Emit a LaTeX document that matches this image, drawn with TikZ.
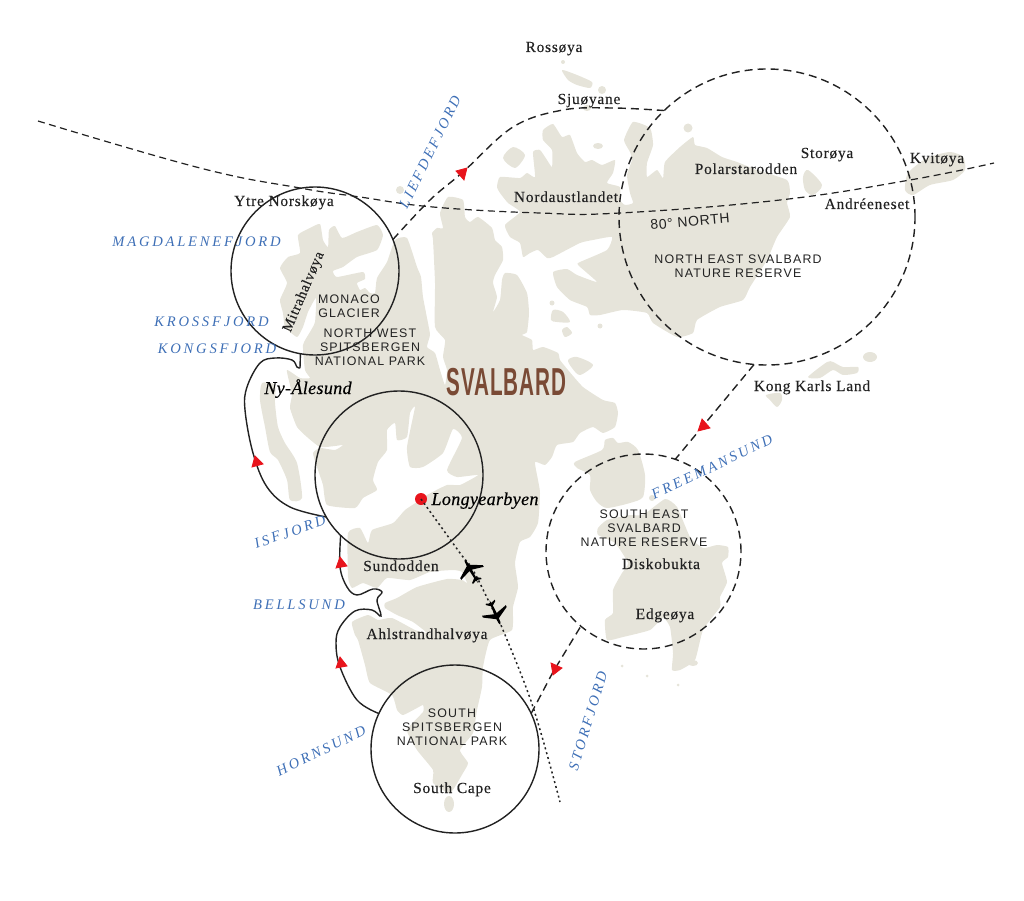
\documentclass[tikz,border=0pt]{standalone}
\usepackage{fontspec}
\setmainfont{Liberation Serif}
\newfontfamily\serifl[LetterSpace=5,RawFeature={embolden=0.25}]{Liberation Serif}
\newfontfamily\serifi[LetterSpace=2,RawFeature={embolden=0.35}]{Liberation Serif}
\newfontfamily\fjordf[LetterSpace=19]{Liberation Serif}
\newfontfamily\sansl[LetterSpace=9.5]{Liberation Sans}
\newfontfamily\sanst[LetterSpace=5]{Liberation Sans}
\newfontfamily\titlef[LetterSpace=4]{Liberation Sans}
\definecolor{land}{HTML}{E6E4DA}
\definecolor{ink}{HTML}{222222}
\definecolor{routered}{HTML}{E8141C}
\definecolor{fjordblue}{HTML}{3E6FB6}
\definecolor{brown1}{HTML}{7A4A35}
\tikzset{
  landmass/.style={fill=land,draw=none},
  parksolid/.style={circle,draw=ink,line width=1.4pt,minimum size=168pt,inner sep=0pt,outer sep=0pt},
  parkdash/.style={circle,draw=ink,line width=1.4pt,dash pattern=on 8pt off 5pt,inner sep=0pt,outer sep=0pt},
  sail/.style={draw=ink,line width=1.4pt},
  saildash/.style={draw=ink,line width=1.4pt,dash pattern=on 8pt off 5pt},
  parallelline/.style={draw=ink,line width=1.2pt,dash pattern=on 7pt off 4.5pt},
  flight/.style={draw=ink,line width=1.5pt,dash pattern=on 2pt off 3pt},
  redtip/.style={fill=routered,draw=routered,line width=0.8pt,line join=miter},
  place/.style={font=\serifl\fontsize{15.4}{17}\selectfont,text=ink,inner sep=0pt,anchor=base},
  town/.style={font=\serifi\itshape\fontsize{18}{20}\selectfont,text=black,inner sep=0pt,anchor=base},
  fjordlabel/.style={font=\fjordf\itshape\fontsize{14.6}{16}\selectfont,text=fjordblue,inner sep=0pt},
  parklabel/.style={font=\sansl\fontsize{12.4}{14}\selectfont,text=ink,inner sep=0pt,align=center},
  airplane/.pic={\fill[black] (-0.9,-9) -- (0,-10.5) -- (0.9,-9) -- (1.4,-4) -- (13,3) -- (13,5) -- (1.4,1.5) -- (1,10) -- (5,13) -- (5,14.5) -- (0.6,13) -- (0,16) -- (-0.6,13) -- (-5,14.5) -- (-5,13) -- (-1,10) -- (-1.4,1.5) -- (-13,5) -- (-13,3) -- (-1.4,-4) -- cycle;}
}
\begin{document}
\begin{tikzpicture}[x=1pt,y=-1pt]
\useasboundingbox (0,0) rectangle (1024,901);
% ----- land -----
\fill[landmass] plot[smooth cycle,tension=0.3] coordinates {
(280,268)(288,257)(300,253)(298,235)(310,228)(320,224)(323,240)(328,247)(329,230)(335,226)(342,238)(357,232)(377,225)(383,235)(377,250)(357,257)(343,267)(333,271)(337,277)(363,272)(365,279)(357,283)(360,290)(365,288)(370,293)(375,293)(377,278)(387,262)(395,240)(407,238)(417,267)(421,277)(423,297)(428,323)(430,335)(427,347)(435,353)(440,370)(445,385)(447,370)(443,357)(445,340)(435,327)(435,283)(433,240)(432,233)(437,228)(443,228)(440,213)(448,197)(463,200)(465,217)(470,222)(478,217)(492,228)(495,240)(502,247)(503,260)(495,275)(493,283)(497,297)(493,312)(500,300)(502,280)(505,273)(517,275)(527,293)(529,313)(527,332)(522,335)(532,340)(533,350)(543,347)(558,353)(560,360)(568,370)(583,387)(603,400)(615,403)(618,413)(615,427)(603,433)(593,427)(580,433)(573,442)(557,445)(552,457)(545,465)(535,462)(538,480)(540,493)(538,523)(530,537)(520,542)(515,563)(518,587)(513,607)(512,630)(490,640)(483,667)(482,687)(477,710)(473,733)(460,750)(468,763)(463,773)(450,793)(433,783)(433,770)(417,750)(407,730)(423,712)(423,705)(417,708)(403,715)(397,710)(392,695)(370,683)(365,665)(358,640)(355,635)(352,622)(368,615)(378,620)(392,618)(415,630)(427,633)(413,622)(397,615)(385,608)(385,603)(397,598)(417,587)(447,579)(462,580)(467,583)(462,572)(453,570)(430,572)(410,580)(387,578)(377,588)(363,583)(352,588)(348,577)(348,533)(360,528)(368,543)(372,530)(393,523)(405,510)(417,502)(427,495)(447,485)(460,485)(478,475)(457,477)(447,470)(462,438)(453,429)(443,453)(423,467)(410,467)(407,447)(415,407)(410,413)(407,437)(397,440)(395,423)(387,430)(387,450)(378,462)(373,480)(377,490)(363,498)(355,508)(327,505)(323,485)(317,467)(313,453)(320,448)(335,450)(343,445)(335,446)(320,447)(307,437)(297,427)(290,408)(292,395)(290,385)(287,370)(300,378)(310,378)(305,370)(303,345)(310,332)(315,322)(316,298)(308,312)(303,327)(297,337)(285,327)(283,313)(280,300)(287,283)};
% Prins Karls Forland
\fill[landmass] plot[smooth cycle,tension=0.4] coordinates {(262,383)(275,385)(275,403)(278,427)(285,443)(297,463)(302,498)(290,500)(287,480)(278,460)(270,452)(265,427)(260,400)};
% Nordaustlandet
\fill[landmass] plot[smooth cycle,tension=0.3] coordinates {
(497,187)(500,177)(520,178)(527,173)(535,177)(533,152)(540,150)(547,160)(552,167)(552,150)(543,140)(543,130)(553,124)(562,137)(570,135)(577,153)(585,162)(592,160)(602,165)(615,160)(613,173)(607,183)(620,187)(620,200)(625,205)(633,203)(630,193)(627,175)(632,160)(630,152)(624,140)(633,122)(650,128)(653,145)(647,163)(647,177)(657,170)(663,178)(665,162)(680,147)(693,137)(695,145)(707,148)(722,157)(737,162)(757,170)(787,180)(790,193)(787,203)(790,217)(777,237)(767,260)(750,287)(743,300)(720,307)(697,320)(693,333)(677,337)(653,323)(647,313)(623,310)(600,315)(590,315)(587,307)(570,300)(557,287)(553,272)(567,269)(577,275)(597,282)(578,265)(580,262)(607,250)(612,237)(593,240)(580,243)(553,257)(547,258)(538,250)(530,253)(523,257)(520,243)(510,237)(505,225)(520,212)(508,203)(500,193)};
% small islands north
\fill[landmass] plot[smooth cycle,tension=0.5] coordinates {(503,158)(513,147)(525,155)(515,168)};
\fill[landmass] plot[smooth cycle,tension=0.4] coordinates {(562,70)(577,75)(592,82)(590,88)(577,85)(568,80)};
\fill[landmass] (563,62) circle (2);
\fill[landmass] (602,90) circle (4);
\fill[landmass] (587,108) ellipse (4 and 3);
\fill[landmass] (400,190) circle (4);
\fill[landmass] (598,146) ellipse (5 and 3);
\fill[landmass] (688,128) circle (4.5);
% small islands east of Spitsbergen
\fill[landmass] (552,303) circle (2.5);
\fill[landmass] plot[smooth cycle,tension=0.5] coordinates {(551,320)(553,310)(563,312)(570,322)(557,322)};
\fill[landmass] plot[smooth cycle,tension=0.5] coordinates {(562,330)(567,327)(572,333)(565,337)};
\fill[landmass] (600,326) circle (2.5);
\fill[landmass] plot[smooth cycle,tension=0.5] coordinates {(568,360)(577,357)(593,365)(580,375)(572,368)};
\fill[landmass] (449,804) ellipse (5 and 8);
% Storoya, Kvitoya, Kong Karls Land
\fill[landmass] plot[smooth cycle,tension=0.5] coordinates {(803,177)(808,170)(822,185)(813,195)(805,190)};
\fill[landmass] plot[smooth cycle,tension=0.4] coordinates {(905,190)(908,173)(927,158)(950,152)(963,157)(965,170)(953,180)(930,185)(913,195)};
\fill[landmass] plot[smooth cycle,tension=0.4] coordinates {(808,377)(827,362)(833,362)(843,367)(858,367)(857,373)(843,375)(833,370)(820,378)};
\fill[landmass] (870,357) ellipse (7 and 5);
\fill[landmass] plot[smooth cycle,tension=0.5] coordinates {(766,395)(780,393)(782,400)(777,407)(770,400)};
% Barentsoya, Edgeoya
\fill[landmass] plot[smooth cycle,tension=0.4] coordinates {(575,462)(602,450)(605,440)(613,438)(618,443)(628,442)(638,450)(645,475)(643,497)(630,503)(607,508)(597,502)(590,490)(590,475)(577,468)};
\fill[landmass] plot[smooth cycle,tension=0.3] coordinates {(598,528)(607,520)(630,515)(643,515)(665,499)(677,507)(690,537)(703,548)(717,545)(728,547)(728,557)(722,563)(727,582)(720,597)(720,607)(703,630)(695,660)(680,670)(672,670)(673,653)(670,627)(663,618)(650,630)(623,637)(607,640)(605,620)(613,613)(613,590)(622,573)(628,563)(615,543)(598,535)};
\fill[landmass] (652,498) circle (3);
\fill[landmass] (693,663) ellipse (5 and 3);
\fill[landmass] (622,666) circle (1.5);
\fill[landmass] (647,676) circle (1.5);
\fill[landmass] (678,685) circle (1.5);
% ----- park circles -----
\node[parksolid] (nw) at (315,271) {};
\node[parksolid] (mid) at (399,475) {};
\node[parksolid] (sc) at (455,749) {};
\node[parkdash,minimum size=296pt] (ne) at (767,217) {};
\node[parkdash,minimum size=195pt] (se) at (643.5,551.5) {};
% ----- 80 north -----
\coordinate (pw) at (38,121);
\coordinate (pe) at (994,163);
\draw[parallelline] plot[smooth,tension=0.7] coordinates {(pw)(200,168)(300,188)(360,197)(433,207)(540,213)(620,213)(780,200)(910,180)(pe)};
% ----- routes -----
\draw[sail] plot[smooth,tension=0.6] coordinates {(sc.155)(357,700)(340,667)(336,643)(340,627)(355,611)(372,610)(381,616)(377,600)(382,592)(373,589)(357,595)(347,587)(340,567)(mid.226)};
\draw[sail] plot[smooth,tension=0.6] coordinates {(mid.210)(290,507)(267,487)(253,453)(245,410)(247,387)(260,363)(275,358)(292,360)(297,367)(300,368)};
\draw[sail] (300,368) -- (nw.260);
\draw[saildash] plot[smooth,tension=0.6] coordinates {(nw.22)(430,200)(463,172)(513,127)(563,110)(613,108)(ne.134.5)};
\draw[saildash] (ne.265) -- (se.71);
\draw[saildash] (sc.25) -- (553,672) -- (se.230);
% flight
\node[circle,fill=routered,minimum size=12pt,inner sep=0pt,outer sep=0pt] (lyr) at (421,499) {};
\coordinate (flightend) at (560,802);
\draw[flight] plot[smooth,tension=0.6] coordinates {(lyr)(460,553)(473,570)(493,610)(503,630)(533,707)(flightend)};
\pic[rotate=30] at (470,569) {airplane};
\pic[rotate=204] at (496,615) {airplane};
% red arrows
\fill[redtip] (467,168) -- (456,171) -- (464,180) -- cycle;
\fill[redtip] (702,419) -- (710,428) -- (698,431) -- cycle;
\fill[redtip] (551,663) -- (562,668) -- (553,675) -- cycle;
\fill[redtip] (255,456) -- (263,464) -- (252,467) -- cycle;
\fill[redtip] (340,557) -- (347,566) -- (336,568) -- cycle;
\fill[redtip] (340,657) -- (347,666) -- (336,668) -- cycle;
% ----- title -----
\node[inner sep=0pt,text=brown1] (title) at (506.5,382) {\scalebox{0.53}[1]{\titlef\bfseries\fontsize{39}{40}\selectfont SVALBARD}};
% ----- places -----
\node[place] (n1) at (554,52) {Rossøya};
\node[place] (n2) at (589,104) {Sjuøyane};
\node[place] (n3) at (566,202) {Nordaustlandet};
\node[place] (n4) at (746,174) {Polarstarodden};
\node[place] (n5) at (827,158) {Storøya};
\node[place] (n6) at (937,163) {Kvitøya};
\node[place] (n7) at (867,209) {Andréeneset};
\node[place] (n8) at (812,391) {Kong Karls Land};
\node[place] (n9) at (284,206) {Ytre Norskøya};
\node[place,anchor=center,rotate=67,font=\serifl\fontsize{14.4}{16}\selectfont] (n10) at (304,292) {Mitrahalvøya};
\node[place] (n11) at (401,571) {Sundodden};
\node[place] (n12) at (427,639) {Ahlstrandhalvøya};
\node[place] (n13) at (452,793) {South Cape};
\node[place] (n14) at (661,569) {Diskobukta};
\node[place] (n15) at (665,619) {Edgeøya};
\node[town] (t1) at (308,394) {Ny-Ålesund};
\node[town] (t2) at (485,505) {Longyearbyen};
% ----- fjords -----
\node[fjordlabel] (f1) at (196.5,242) {MAGDALENEFJORD};
\node[fjordlabel] (f2) at (211.5,322) {KROSSFJORD};
\node[fjordlabel] (f3) at (217,349) {KONGSFJORD};
\node[fjordlabel,rotate=64] (f4) at (430,152) {LIEFDEFJORD};
\node[fjordlabel,rotate=19] (f5) at (290,532) {ISFJORD};
\node[fjordlabel] (f6) at (299,605) {BELLSUND};
\node[fjordlabel,rotate=26] (f7) at (321,751) {HORNSUND};
\node[fjordlabel,rotate=73] (f8) at (588,721) {STORFJORD};
\node[fjordlabel,rotate=25.6] (f9) at (712,467) {FREEMANSUND};
% ----- parks -----
\node[parklabel,font=\sanst\fontsize{14}{16}\selectfont,rotate=5] (p0) at (690,221.5) {80° NORTH};
\node[parklabel] (p1) at (738,266) {NORTH EAST SVALBARD\\NATURE RESERVE};
\node[parklabel] (p2) at (349,306) {MONACO\\GLACIER};
\node[parklabel] (p3) at (370,347) {NORTH WEST\\SPITSBERGEN\\NATIONAL PARK};
\node[parklabel] (p4) at (452,727) {SOUTH\\SPITSBERGEN\\NATIONAL PARK};
\node[parklabel] (p5) at (644,528) {SOUTH EAST\\SVALBARD\\NATURE RESERVE};
\end{tikzpicture}
\end{document}
